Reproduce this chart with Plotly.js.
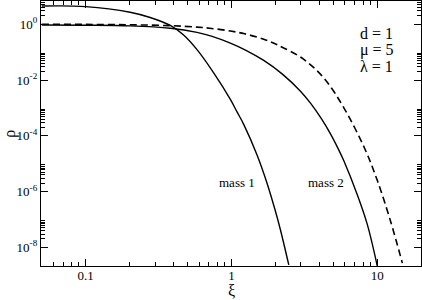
<!DOCTYPE html>
<html>
<head>
<meta charset="utf-8">
<script src="https://cdn.plot.ly/plotly-3.0.1.min.js"></script>
<style>
  html, body { margin: 0; padding: 0; background: #fff; }
  #chart { width: 422px; height: 300px; }
</style>
</head>
<body>
<div id="chart"></div>
<script>
// ---- data ----
const xiMass1  = [0.05, 0.1, 0.202, 0.277, 0.381, 0.47, 0.581, 0.756, 0.984, 1.096, 1.215, 1.5, 1.759, 1.995, 2.172, 2.477];
const rhoMass1 = [4.50, 4.30, 2.70, 1.75, 0.906, 0.412, 0.123, 0.0181, 2.03e-3, 7.03e-4, 2.58e-4, 2.05e-5, 1.95e-6, 2.17e-7, 4.19e-8, 2.33e-9];

const xiMass2  = [0.05, 0.1, 0.202, 0.381, 0.581, 0.729, 0.984, 1.259, 1.667, 2.239, 2.979, 3.49, 4.155, 4.786, 5.41, 5.92, 7.31, 8.57, 10.05];
const rhoMass2 = [0.940, 0.926, 0.873, 0.716, 0.510, 0.374, 0.210, 0.116, 0.0504, 0.0163, 3.98e-3, 1.48e-3, 4.01e-4, 1.17e-4, 3.39e-5, 1.24e-5, 7.64e-7, 6.5e-8, 2.0e-9];

const xiDashed  = [0.05, 0.1, 0.202, 0.381, 0.581, 0.729, 0.984, 1.234, 1.667, 2.094, 3.125, 4.377, 6.007, 8.245, 10.08, 12.38, 14.9];
const rhoDashed = [1.0, 0.991, 0.960, 0.891, 0.791, 0.710, 0.575, 0.455, 0.289, 0.177, 0.0560, 0.0107, 8.71e-4, 3.36e-5, 2.33e-6, 8.43e-8, 2.71e-9];

const xTickVals = [0.1, 1, 10];
const xTickText = ['0.1', '1', '10'];
const xMinorVals = [0.06, 0.07, 0.08, 0.09, 0.2, 0.3, 0.4, 0.5, 0.6, 0.7, 0.8, 0.9, 2, 3, 4, 5, 6, 7, 8, 9];

const yTickVals = [1, 1e-2, 1e-4, 1e-6, 1e-8];
const yTickText = ['10<sup>0</sup>', '10<sup>-2</sup>', '10<sup>-4</sup>', '10<sup>-6</sup>', '10<sup>-8</sup>'];
const yMinorVals = [];
yTickVals.forEach(function (v) { [2,3,4,5,6,7,8,9].forEach(function (m) { yMinorVals.push(v * m); }); });

const xTitle = 'ξ';
const yTitle = 'ρ';
const paramLabels = ['d = 1', 'μ = 5', 'λ = 1'];
const curveLabels = ['mass 1', 'mass 2'];

// ---- chart ----
const serif = 'Liberation Serif, Times New Roman, serif';
const lineStyle = {color: '#000', width: 1.4, shape: 'spline', smoothing: 1};

const traces = [
  {x: xiMass1, y: rhoMass1, mode: 'lines', line: lineStyle, hoverinfo: 'skip'},
  {x: xiMass2, y: rhoMass2, mode: 'lines', line: lineStyle, hoverinfo: 'skip'},
  {x: xiDashed, y: rhoDashed, mode: 'lines',
   line: {color: '#000', width: 1.6, dash: '7px,4px', shape: 'spline', smoothing: 1}, hoverinfo: 'skip'}
];

const axisCommon = {
  type: 'log',
  showline: true, linecolor: '#000', linewidth: 1.2,
  mirror: 'allticks', ticks: 'inside', ticklen: 7, tickwidth: 1, tickcolor: '#000',
  showgrid: false, zeroline: false,
  tickfont: {family: serif, size: 13, color: '#000'},
  tickmode: 'array'
};

const txt = function (t, x, y, size, extra) {
  return Object.assign({xref: 'paper', yref: 'paper', x: x, y: y, xanchor: 'left', yanchor: 'middle',
    showarrow: false, text: t, font: {family: serif, size: size, color: '#000'}}, extra || {});
};

const layout = {
  width: 422, height: 300,
  margin: {l: 41, r: 1, t: 1, b: 34},
  paper_bgcolor: '#fff', plot_bgcolor: '#fff',
  showlegend: false,
  font: {family: serif, color: '#000'},
  xaxis: Object.assign({}, axisCommon, {
    range: [Math.log10(0.0494), Math.log10(20)],
    tickvals: xTickVals, ticktext: xTickText,
    ticklabelstandoff: -3,
    minor: {tickmode: 'array', tickvals: xMinorVals, ticks: 'inside', ticklen: 4, tickwidth: 1, tickcolor: '#000', showgrid: false}
  }),
  yaxis: Object.assign({}, axisCommon, {
    range: [-8.67, 0.835],
    tickvals: yTickVals, ticktext: yTickText,
    minor: {tickmode: 'array', tickvals: yMinorVals, ticks: 'inside', ticklen: 4, tickwidth: 1, tickcolor: '#000', showgrid: false}
  }),
  annotations: [
    txt(paramLabels[0], 0.833, 0.879, 16),
    txt(paramLabels[1], 0.833, 0.815, 16),
    txt(paramLabels[2], 0.833, 0.751, 16),
    {xref: 'x', yref: 'y', x: 0.038, y: -5.657, xanchor: 'center', yanchor: 'middle', showarrow: false,
     text: curveLabels[0], font: {family: serif, size: 13, color: '#000'}},
    {xref: 'x', yref: 'y', x: 0.649, y: -5.675, xanchor: 'center', yanchor: 'middle', showarrow: false,
     text: curveLabels[1], font: {family: serif, size: 13, color: '#000'}},
    {xref: 'x', yref: 'paper', x: 0, y: -0.092, xanchor: 'center', yanchor: 'middle', showarrow: false,
     text: xTitle, font: {family: serif, size: 16, color: '#000'}},
    {xref: 'paper', yref: 'paper', x: -0.082, y: 0.498, xanchor: 'center', yanchor: 'middle', showarrow: false,
     textangle: -90, text: yTitle, font: {family: serif, size: 16, color: '#000'}}
  ]
};

Plotly.newPlot('chart', traces, layout, {staticPlot: true, displayModeBar: false});
</script>
</body>
</html>
